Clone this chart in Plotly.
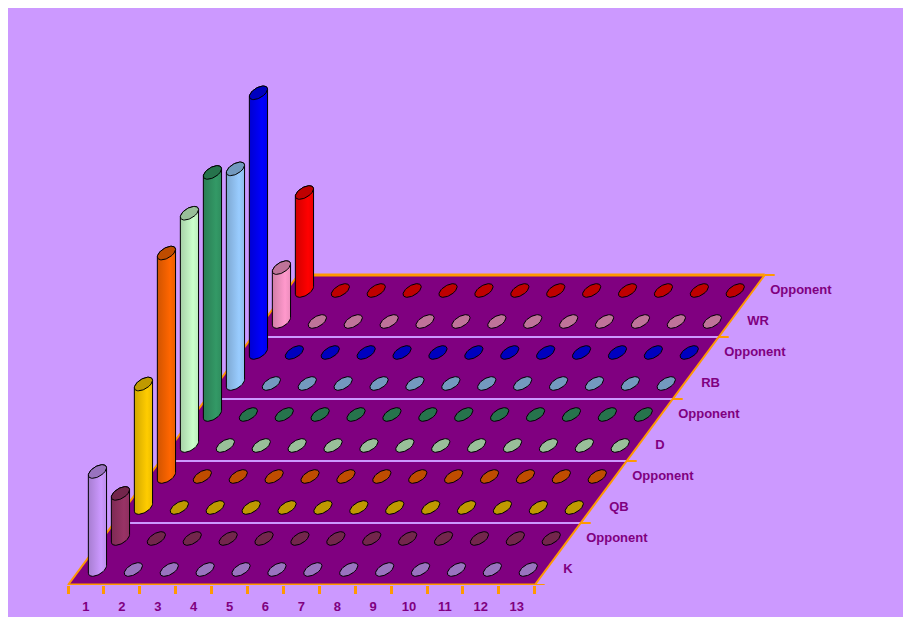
import numpy as np
import plotly.graph_objects as go

# weeks along the front axis, positions along the depth axis (front to back)
categories = [1, 2, 3, 4, 5, 6, 7, 8, 9, 10, 11, 12, 13]
row_labels = ["K", "Opponent", "QB", "Opponent", "D", "Opponent",
              "RB", "Opponent", "WR", "Opponent"]

k_pts      = [10.0, 0, 0, 0, 0, 0, 0, 0, 0, 0, 0, 0, 0]
k_opp      = [4.6, 0, 0, 0, 0, 0, 0, 0, 0, 0, 0, 0, 0]
qb_pts     = [12.6, 0, 0, 0, 0, 0, 0, 0, 0, 0, 0, 0, 0]
qb_opp     = [22.8, 0, 0, 0, 0, 0, 0, 0, 0, 0, 0, 0, 0]
d_pts      = [23.7, 0, 0, 0, 0, 0, 0, 0, 0, 0, 0, 0, 0]
d_opp      = [24.7, 0, 0, 0, 0, 0, 0, 0, 0, 0, 0, 0, 0]
rb_pts     = [21.9, 0, 0, 0, 0, 0, 0, 0, 0, 0, 0, 0, 0]
rb_opp     = [26.5, 0, 0, 0, 0, 0, 0, 0, 0, 0, 0, 0, 0]
wr_pts     = [5.5, 0, 0, 0, 0, 0, 0, 0, 0, 0, 0, 0, 0]
wr_opp     = [10.0, 0, 0, 0, 0, 0, 0, 0, 0, 0, 0, 0, 0]
series = [k_pts, k_opp, qb_pts, qb_opp, d_pts, d_opp, rb_pts, rb_opp, wr_pts, wr_opp]

body_colors = ["#CC99FF", "#993366", "#FFCC00", "#FF6600", "#CCFFCC",
               "#339966", "#99CCFF", "#0000FF", "#FF99CC", "#FF0000"]

BG = "#CC99FF"
FLOOR = "#800080"
EDGE = "#FF9900"
TEXT = "#800080"
FONT = "Liberation Sans, Arial, sans-serif"

# the page body adds an 8px margin, so the figure is drawn 8px in from the corner
PAGE_OFF = 8
W, H = 911 - PAGE_OFF, 623 - PAGE_OFF
FLOOR_Y = 585 - PAGE_OFF   # pixel row of the front floor edge
FLOOR_X = 68 - PAGE_OFF    # pixel column of the front-left corner
CAT_PX = 35.9              # pixels per category
VAL_PX = 9.8               # pixels per value unit
ROW_DX = 23 / CAT_PX       # depth shift per row (category units)
ROW_DY = 31 / VAL_PX       # depth shift per row (value units)
A_PX, BX_PX, BY_PX = 7.6, 5.0, 6.8   # cylinder cross-section in pixels

nrows = len(row_labels)
ncat = len(categories)


def shade(hex_color, f):
    r, g, b = (int(hex_color[i:i + 2], 16) for i in (1, 3, 5))
    return "rgb(%d,%d,%d)" % (min(255, round(r * f)), min(255, round(g * f)), min(255, round(b * f)))


def proj(c, d, v=0.0):
    return c + d * ROW_DX, v + d * ROW_DY


def ring(cx, cy, t):
    return (cx + (A_PX * np.cos(t) + BX_PX * np.sin(t)) / CAT_PX,
            cy + BY_PX * np.sin(t) / VAL_PX)


t_r = np.arctan2(BX_PX, A_PX)
t_l = t_r + np.pi

fig = go.Figure()

# floor
fx, fy = zip(*[proj(0.5, 0), proj(ncat + 0.5, 0), proj(ncat + 0.5, nrows), proj(0.5, nrows)])
fig.add_trace(go.Scatter(x=list(fx), y=list(fy), fill="toself", fillcolor=FLOOR,
                         mode="lines", line=dict(width=0), hoverinfo="skip"))

# row separators every two rows
for d in range(2, nrows, 2):
    (x0, y0), (x1, y1) = proj(0.5, d), proj(ncat + 0.5, d)
    fig.add_trace(go.Scatter(x=[x0, x1], y=[y0, y1], mode="lines",
                             line=dict(color=BG, width=2), hoverinfo="skip"))

# floor edges
for a, b, w in [((0.5, 0), (ncat + 0.5, 0), 3), ((0.5, 0), (0.5, nrows), 2),
                ((ncat + 0.5, 0), (ncat + 0.5, nrows), 2), ((0.5, nrows), (ncat + 0.5, nrows), 3)]:
    (x0, y0), (x1, y1) = proj(*a), proj(*b)
    fig.add_trace(go.Scatter(x=[x0, x1], y=[y0, y1], mode="lines",
                             line=dict(color=EDGE, width=w), hoverinfo="skip"))

# depth axis ticks on the right edge
for d in range(0, nrows + 1, 2):
    x0, y0 = proj(ncat + 0.5, d)
    fig.add_trace(go.Scatter(x=[x0, x0 + 10 / CAT_PX], y=[y0, y0], mode="lines",
                             line=dict(color=EDGE, width=2), hoverinfo="skip"))

# cylinders, back row first
tt = np.linspace(0, 2 * np.pi, 60)
for d in range(nrows - 1, -1, -1):
    vals = series[d]
    col = body_colors[d]
    top = shade(col, 0.75)
    dx, dy = [], []
    for c, v in zip(categories, vals):
        cx, cy = proj(c, d + 0.5)
        if v > 0:
            tb = np.linspace(t_l, t_r + 2 * np.pi, 30)
            tu = np.linspace(t_r, t_l, 30)
            bx, by = ring(cx, cy, tb)
            ux, uy = ring(cx, cy + v, tu)
            fig.add_trace(go.Scatter(
                x=np.r_[bx, ux, bx[:1]], y=np.r_[by, uy, by[:1]], fill="toself",
                fillgradient=dict(type="horizontal",
                                  colorscale=[[0, shade(col, 0.82)], [0.7, shade(col, 1.0)],
                                              [1, shade(col, 0.92)]]),
                mode="lines", line=dict(color="black", width=1), hoverinfo="skip"))
            ex, ey = ring(cx, cy + v, tt)
            fig.add_trace(go.Scatter(x=ex, y=ey, fill="toself", fillcolor=top, mode="lines",
                                     line=dict(color="black", width=1), hoverinfo="skip"))
        else:
            ex, ey = ring(cx, cy, tt)
            dx += list(ex) + [None]
            dy += list(ey) + [None]
    if dx:
        fig.add_trace(go.Scatter(x=dx, y=dy, fill="toself", fillcolor=top, mode="lines",
                                 line=dict(color="black", width=1), hoverinfo="skip"))

# depth labels
lx, ly = [], []
for d in range(nrows):
    x0, y0 = proj(ncat + 0.5, d + 0.5)
    lx.append(x0 + 17 / CAT_PX)
    ly.append(y0)
fig.add_trace(go.Scatter(x=lx, y=ly, mode="text", text=row_labels, textposition="middle right",
                         textfont=dict(family=FONT, size=13, color=TEXT, weight="bold"),
                         hoverinfo="skip"))

x_lo = 0.5 - FLOOR_X / CAT_PX
x_hi = x_lo + W / CAT_PX
fig.update_layout(
    width=W, height=H, showlegend=False,
    margin=dict(l=0, r=0, t=0, b=H - FLOOR_Y, pad=0),
    paper_bgcolor="white", plot_bgcolor="rgba(0,0,0,0)",
    xaxis=dict(range=[x_lo, x_hi], showgrid=False, zeroline=False, showline=False,
               tickmode="array", tickvals=categories, ticktext=[str(c) for c in categories],
               ticks="", ticklabelstandoff=12,
               tickfont=dict(family=FONT, size=13, color=TEXT, weight="bold"),
               minor=dict(tickmode="array", tickvals=[c - 0.5 for c in categories] + [ncat + 0.5],
                          ticks="outside", ticklen=8, tickwidth=3, tickcolor=EDGE, showgrid=False)),
    yaxis=dict(range=[0, FLOOR_Y / VAL_PX], visible=False),
    shapes=[dict(type="rect", xref="paper", yref="paper", layer="below",
                 x0=-0.02, x1=(906 - PAGE_OFF) / W,
                 y0=(FLOOR_Y - (617 - PAGE_OFF)) / FLOOR_Y, y1=1.02,
                 fillcolor=BG, line=dict(width=0))],
)

fig.write_html("out.html")
